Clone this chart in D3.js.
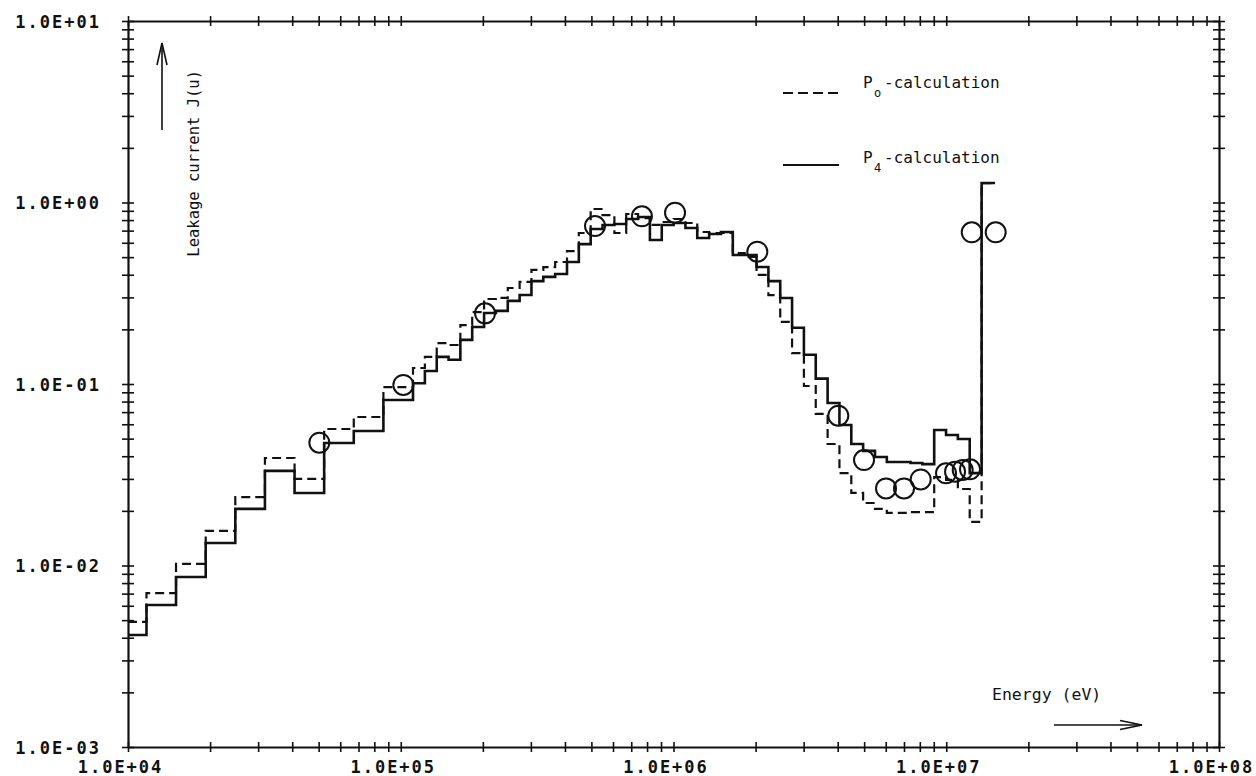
<!DOCTYPE html>
<html>
<head>
<meta charset="utf-8">
<script src="https://cdn.jsdelivr.net/npm/d3@7"></script>
<style>
  body { margin: 0; background: #fff; }
  svg { display: block; }
  text { font-family: "DejaVu Sans Mono", monospace; fill: #111; }
  .ticklab { font-size: 17px; font-weight: bold; letter-spacing: 2px; }
  .lab { font-size: 16px; }
</style>
</head>
<body>
<svg width="1256" height="776"></svg>
<script>
// group boundaries (eV)
const binEdges = [
  1.0e4, 1.169e4, 1.5e4, 1.927e4, 2.474e4, 3.177e4, 4.08e4, 5.238e4, 6.726e4, 8.637e4,
  1.109e5, 1.226e5, 1.355e5, 1.497e5, 1.654e5, 1.828e5, 2.021e5, 2.233e5, 2.468e5, 2.728e5,
  3.014e5, 3.332e5, 3.682e5, 4.069e5, 4.497e5, 4.970e5, 5.493e5, 6.071e5, 6.709e5, 7.415e5,
  8.194e5, 9.056e5, 1.001e6, 1.106e6, 1.222e6, 1.351e6, 1.493e6, 1.650e6, 1.824e6, 2.016e6,
  2.228e6, 2.462e6, 2.721e6, 3.007e6, 3.323e6, 3.673e6, 4.059e6, 4.486e6, 4.957e6, 5.479e6,
  6.055e6, 6.692e6, 7.396e6, 8.173e6, 9.033e6, 9.983e6, 1.103e7, 1.219e7, 1.348e7, 1.51e7
];

// P4 calculation (solid)
const p4Values = [
  0.00414, 0.00606, 0.00865, 0.0133, 0.0205, 0.0332, 0.0251, 0.0473, 0.0551, 0.0817,
  0.101, 0.118, 0.141, 0.136, 0.175, 0.206, 0.246, 0.253, 0.287, 0.309,
  0.369, 0.389, 0.404, 0.470, 0.590, 0.715, 0.752, 0.761, 0.811, 0.832,
  0.621, 0.752, 0.771, 0.724, 0.637, 0.671, 0.688, 0.514, 0.514, 0.441,
  0.369, 0.298, 0.204, 0.145, 0.107, 0.0786, 0.0594, 0.0467, 0.0428, 0.0396,
  0.0372, 0.0372, 0.0367, 0.0362, 0.0558, 0.0524, 0.0498, 0.0323,
  1.28
];

// P0 calculation (dashed)
const p0Values = [
  0.00489, 0.00705, 0.0102, 0.0155, 0.0238, 0.0391, 0.0300, 0.0565, 0.0658, 0.0962,
  0.1225, 0.141, 0.168, 0.164, 0.211, 0.249, 0.294, 0.298, 0.338, 0.365,
  0.425, 0.441, 0.470, 0.540, 0.679, 0.921, 0.853, 0.679, 0.864, 0.821,
  0.752, 0.781, 0.811, 0.771, 0.688, 0.679, 0.679, 0.527, 0.501, 0.399,
  0.309, 0.220, 0.148, 0.0975, 0.0684, 0.0467, 0.0323, 0.0251, 0.0221, 0.0205,
  0.0195, 0.0195, 0.0197, 0.0197, 0.0307, 0.0296, 0.0264, 0.0174,
  1.28
];

// measured points (circles)
const expEnergy = [5.03e4, 1.022e5, 2.037e5, 5.155e5, 7.66e5, 1.013e6, 2.029e6, 4.02e6, 4.995e6,
  6.015e6, 7.0e6, 8.06e6, 9.98e6, 1.077e7, 1.149e7, 1.222e7, 1.24e7, 1.518e7];
const expCurrent = [0.0475, 0.0988, 0.245, 0.742, 0.839, 0.879, 0.536, 0.0669, 0.0381,
  0.0266, 0.0266, 0.0298, 0.0322, 0.0329, 0.0336, 0.0339, 0.685, 0.685];

const xMajor = [1e4, 1e5, 1e6, 1e7, 1e8];
const xTickLabels = ["1.0E+04", "1.0E+05", "1.0E+06", "1.0E+07", "1.0E+08"];
const yMajor = [1e-3, 1e-2, 1e-1, 1e0, 1e1];
const yTickLabels = ["1.0E-03", "1.0E-02", "1.0E-01", "1.0E+00", "1.0E+01"];

const svg = d3.select("svg");
const x = d3.scaleLog().domain([1e4, 1e8]).range([128, 1219]);
const y = d3.scaleLog().domain([1e-3, 1e1]).range([747, 21]);

// 1..9 in each decade
const minorTicks = (lo, hi) => {
  const out = [];
  for (let k = lo; k < hi; k++) for (let m = 1; m <= 9; m++) out.push(m * Math.pow(10, k));
  out.push(Math.pow(10, hi));
  return out;
};
const xTickValues = minorTicks(4, 8);
const yTickValues = minorTicks(-3, 1);

const labelFor = (majors, labels) => d => {
  const i = majors.findIndex(v => Math.abs(v - d) / v < 1e-9);
  return i >= 0 ? labels[i] : "";
};

function frame(g) {
  g.attr("font-size", null).attr("font-family", null);
  g.select(".domain").attr("stroke", "#111").attr("stroke-width", 2.2);
  g.selectAll(".tick line").attr("stroke", "#111").attr("stroke-width", 1.6);
}

svg.append("g")
  .attr("transform", "translate(0,747)")
  .call(d3.axisBottom(x).tickValues(xTickValues).tickSizeOuter(0)
    .tickFormat(labelFor(xMajor, xTickLabels)))
  .call(frame)
  .call(g => {
    g.selectAll(".tick line").attr("y1", -5).attr("y2", 5);
    g.selectAll(".tick text").attr("class", "ticklab").attr("y", 26).attr("dy", 0).attr("dx", -8);
  });

svg.append("g")
  .attr("transform", "translate(0,21)")
  .call(d3.axisTop(x).tickValues(xTickValues).tickSizeOuter(0).tickFormat(""))
  .call(frame)
  .call(g => g.selectAll(".tick line").attr("y1", -5).attr("y2", 5));

svg.append("g")
  .attr("transform", "translate(128,0)")
  .call(d3.axisLeft(y).tickValues(yTickValues).tickSizeOuter(0)
    .tickFormat(labelFor(yMajor, yTickLabels)))
  .call(frame)
  .call(g => {
    g.selectAll(".tick line").attr("x1", -6).attr("x2", 6);
    g.selectAll(".tick text").attr("class", "ticklab").attr("x", -27).attr("dy", "0.36em");
  });

svg.append("g")
  .attr("transform", "translate(1219,0)")
  .call(d3.axisRight(y).tickValues(yTickValues).tickSizeOuter(0).tickFormat(""))
  .call(frame)
  .call(g => g.selectAll(".tick line").attr("x1", -6).attr("x2", 6));

// histogram steps
const stepPoints = vals => vals.map((v, i) => [binEdges[i], v])
  .concat([[binEdges[vals.length], vals[vals.length - 1]]]);
const line = d3.line()
  .x(d => x(d[0]))
  .y(d => y(d[1]))
  .curve(d3.curveStepAfter);

svg.append("path")
  .attr("d", line(stepPoints(p0Values)))
  .attr("fill", "none")
  .attr("stroke", "#111")
  .attr("stroke-width", 2.2)
  .attr("stroke-dasharray", "9,5");

svg.append("path")
  .attr("d", line(stepPoints(p4Values)))
  .attr("fill", "none")
  .attr("stroke", "#111")
  .attr("stroke-width", 2.6);

svg.selectAll("circle.exp")
  .data(expEnergy.map((e, i) => [e, expCurrent[i]]))
  .enter()
  .append("circle")
  .attr("class", "exp")
  .attr("cx", d => x(d[0]))
  .attr("cy", d => y(d[1]))
  .attr("r", 10)
  .attr("fill", "none")
  .attr("stroke", "#111")
  .attr("stroke-width", 2);

// legend
svg.append("line").attr("x1", 783).attr("x2", 838).attr("y1", 93).attr("y2", 93)
  .attr("stroke", "#111").attr("stroke-width", 2).attr("stroke-dasharray", "10,5");
svg.append("line").attr("x1", 783).attr("x2", 839).attr("y1", 165).attr("y2", 165)
  .attr("stroke", "#111").attr("stroke-width", 2);

const legend = [["o", 88], ["4", 163]];
legend.forEach(([sub, by]) => {
  svg.append("text").attr("class", "lab").attr("x", 863).attr("y", by).text("P");
  svg.append("text").attr("class", "lab").attr("x", 874).attr("y", by + 9)
    .style("font-size", "12px").text(sub);
  svg.append("text").attr("class", "lab").attr("x", 884).attr("y", by).text("-calculation");
});

// axis titles with arrows
svg.append("text")
  .attr("class", "lab")
  .attr("transform", "translate(199,70) rotate(-90)")
  .attr("text-anchor", "end")
  .style("font-size", "15.5px")
  .text("Leakage current J(u)");

const arrow = svg.append("g").attr("stroke", "#111").attr("stroke-width", 1.6).attr("fill", "none");
arrow.append("line").attr("x1", 162).attr("x2", 162).attr("y1", 130).attr("y2", 43);
arrow.append("path").attr("d", "M157,65 L162,43 L167,65");

svg.append("text")
  .attr("class", "lab")
  .attr("x", 992).attr("y", 700)
  .style("font-size", "16.5px")
  .text("Energy (eV)");
arrow.append("line").attr("x1", 1054).attr("x2", 1142).attr("y1", 725).attr("y2", 725);
arrow.append("path").attr("d", "M1120,720.5 L1142,725 L1120,729.5");
</script>
</body>
</html>
